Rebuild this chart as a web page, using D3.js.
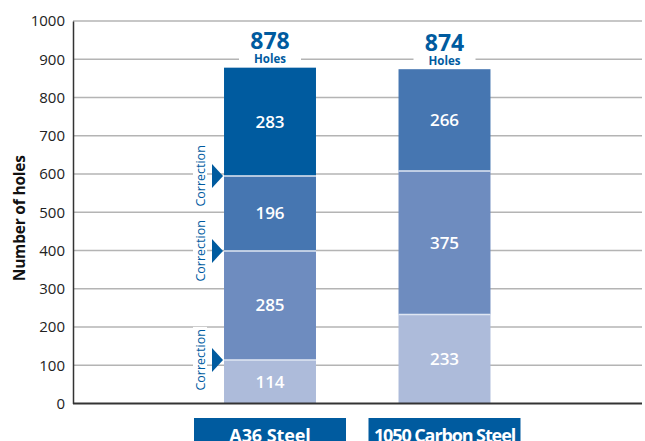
<!DOCTYPE html>
<html><head><meta charset="utf-8">
<script src="https://cdn.jsdelivr.net/npm/d3@7"></script>
<style>body{margin:0;background:#fff}svg{display:block}text{font-family:"Open Sans",sans-serif}</style>
</head><body><div id="chart"></div>
<script>
const categories = ["A36 Steel", "1050 Carbon Steel"];
const a36Values = [114, 285, 196, 283];
const carbonValues = [233, 375, 266];
const totals = [878, 874];
const yTicks = [0,100,200,300,400,500,600,700,800,900,1000];
const correctionLabel = "Correction";
const totalUnit = "Holes";
const yTitle = "Number of holes";

const W = 645, H = 441;
const svg = d3.select("#chart").append("svg").attr("width", W).attr("height", H);
const x = d3.scaleBand().domain(categories).range([182.75, 531.75]).paddingInner(0.473).paddingOuter(0.2365);
const y = d3.scaleLinear().domain([0, 1000]).range([403.5, 21]);
const axisX = 73, rightX = 642;

const a36Colors = ["#adbbda", "#6e8cbf", "#4676b1", "#005b9f"];
const carbonColors = ["#adbbda", "#6e8cbf", "#4676b1"];

// gridlines
svg.append("g").selectAll("line").data(yTicks.filter(d => d > 0)).join("line")
  .attr("x1", axisX).attr("x2", rightX).attr("y1", d => y(d)).attr("y2", d => y(d))
  .attr("stroke", "#b4b4b4").attr("stroke-width", 1.3);

// y axis
const yAxis = d3.axisLeft(y).tickValues(yTicks).tickFormat(d3.format("d")).tickSize(0).tickPadding(8);
const gy = svg.append("g").attr("transform", `translate(${axisX},0)`).call(yAxis);
gy.attr("font-size", 15).attr("font-family", "'Open Sans',sans-serif");
gy.select(".domain").attr("stroke", "#333").attr("stroke-width", 1.5);
gy.selectAll("text").attr("fill", "#222");

svg.append("text").attr("transform", `translate(25,${(y(0)+y(1000))/2 + 6}) rotate(-90)`)
  .attr("text-anchor", "middle").attr("font-size", 15.5).attr("font-weight", 700).attr("fill", "#111")
  .attr("letter-spacing", -0.2)
  .text(yTitle);

function stack(vals) { let c = 0; return vals.map(v => { const s = {y0: c, y1: c + v, v}; c += v; return s; }); }
const series = [
  {cat: categories[0], segs: stack(a36Values), colors: a36Colors, total: totals[0]},
  {cat: categories[1], segs: stack(carbonValues), colors: carbonColors, total: totals[1]}
];
const catSpacing = [-0.1, -1.1];

series.forEach((s, si) => {
  const g = svg.append("g");
  const bx = x(s.cat), bw = x.bandwidth();
  g.selectAll("rect").data(s.segs).join("rect")
    .attr("x", bx).attr("width", bw)
    .attr("y", d => y(d.y1)).attr("height", d => y(d.y0) - y(d.y1))
    .attr("fill", (d, i) => s.colors[i]);
  g.selectAll("line.sep").data(s.segs.slice(1)).join("line").attr("class", "sep")
    .attr("x1", bx).attr("x2", bx + bw).attr("y1", d => y(d.y0)).attr("y2", d => y(d.y0))
    .attr("stroke", "#dfe6f2").attr("stroke-width", 1.5);
  g.selectAll("text.v").data(s.segs).join("text").attr("class", "v")
    .attr("x", bx + bw / 2).attr("y", d => (y(d.y0) + y(d.y1)) / 2 + 6)
    .attr("text-anchor", "middle").attr("font-size", 17).attr("font-weight", 600).attr("fill", "#fff")
    .text(d => d.v);
  // total label
  const cx = bx + bw / 2, top = y(s.total);
  g.append("rect").attr("x", cx - 31).attr("y", top - 36).attr("width", 62).attr("height", 34).attr("fill", "#fff");
  g.append("text").attr("x", cx).attr("y", top - 18.5).attr("text-anchor", "middle")
    .attr("font-size", 23).attr("font-weight", 700).attr("fill", "#005b9f").text(s.total);
  g.append("text").attr("x", cx).attr("y", top - 4.5).attr("text-anchor", "middle")
    .attr("font-size", 11.5).attr("font-weight", 700).attr("fill", "#005b9f").text(totalUnit);
  // category box
  g.append("rect").attr("x", cx - 76).attr("y", 418).attr("width", 152).attr("height", 30).attr("fill", "#005b9f");
  g.append("text").attr("x", cx).attr("y", 442).attr("text-anchor", "middle")
    .attr("font-size", 18).attr("font-weight", 700).attr("fill", "#fff").attr("letter-spacing", catSpacing[si])
    .text(s.cat);
});

// correction markers at A36 boundaries
const a36 = series[0];
const bx0 = x(categories[0]);
const corr = a36.segs.slice(0, 3).map(d => d.y1);
const cg = svg.append("g");
corr.forEach(v => {
  const cy = y(v);
  cg.append("path").attr("d", `M${bx0 - 12},${cy - 12}L${bx0 - 1},${cy}L${bx0 - 12},${cy + 12}Z`).attr("fill", "#005b9f");
  cg.append("rect").attr("x", 193).attr("y", cy - 33).attr("width", 14).attr("height", 66).attr("fill", "#fff");
  cg.append("text").attr("transform", `translate(204.5,${cy}) rotate(-90)`).attr("text-anchor", "middle")
    .attr("font-size", 12.5).attr("fill", "#005b9f").text(correctionLabel);
});

// x axis line
svg.append("line").attr("x1", axisX).attr("x2", rightX).attr("y1", y(0)).attr("y2", y(0))
  .attr("stroke", "#333").attr("stroke-width", 2);
</script></body></html>
